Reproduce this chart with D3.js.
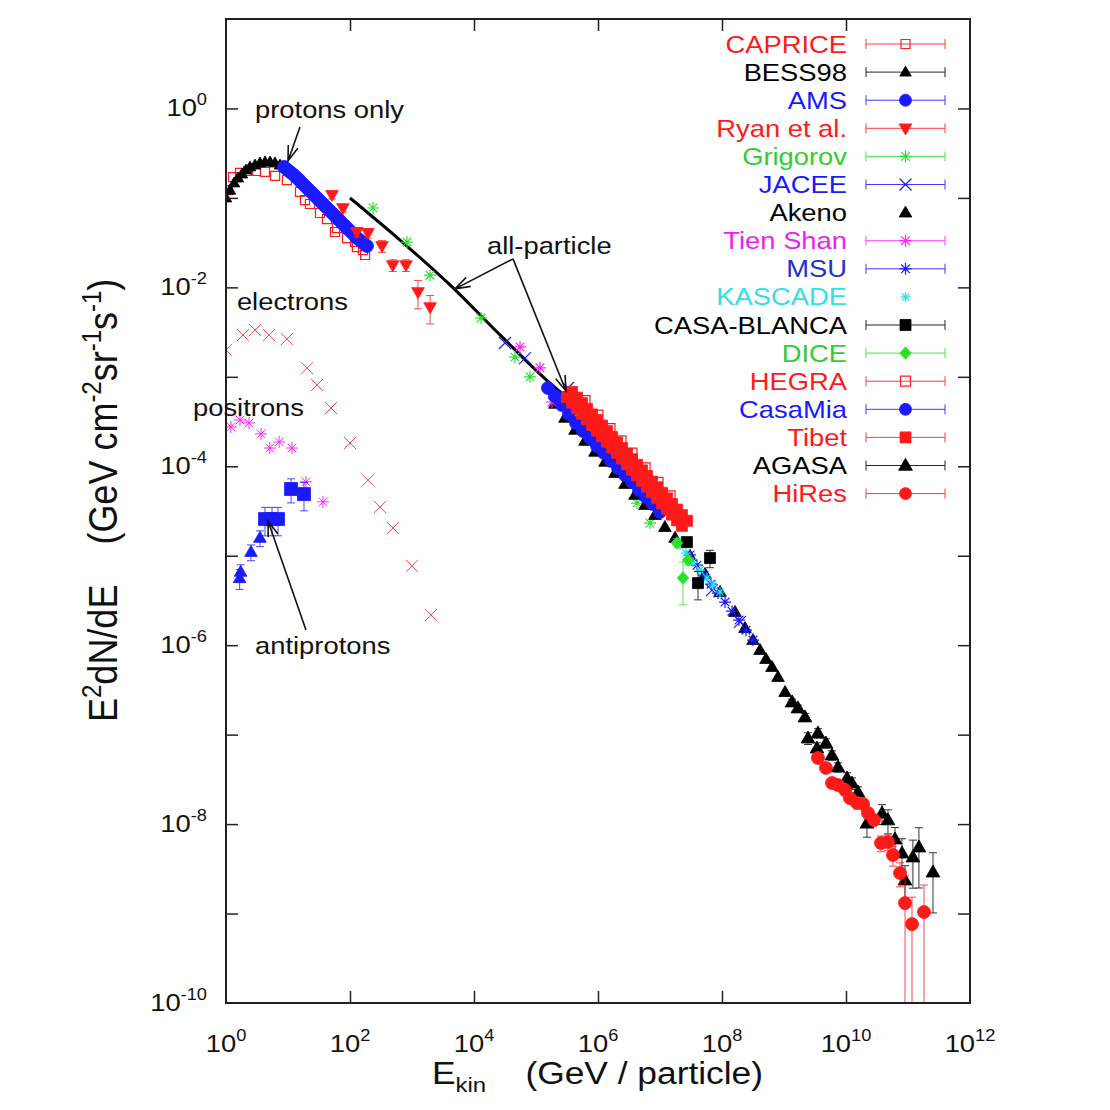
<!DOCTYPE html>
<html>
<head>
<meta charset="utf-8">
<script src="https://cdn.jsdelivr.net/npm/d3@7/dist/d3.min.js"></script>
<style>
html,body{margin:0;padding:0;background:#fff;}
svg text{font-family:"Liberation Sans",Arial,Helvetica,sans-serif;}
</style>
</head>
<body>
<svg id="chart" width="1110" height="1110"></svg>
<script>
// ---------------- DATA (E in GeV, flux = E^2 dN/dE in GeV cm^-2 sr^-1 s^-1) ----------------
const capriceE = [1.08,1.30,1.68,2.26,3.05,4.25,6.2,9.6,15.6,18.8,22.6,32.8,42.5,57.3,61.7,89.5,120,129,162,175];
const capriceF = [0.122,0.171,0.19,0.2,0.2,0.195,0.176,0.158,0.117,0.0946,0.0855,0.0678,0.058,0.0416,0.046,0.0356,0.0322,0.0282,0.0261,0.023];

const bessE = [1.0,1.16,1.35,1.56,1.81,2.10,2.44,2.94,3.53,4.26,5.13,6.17,7.43,8.95];
const bessF = [0.0998,0.122,0.147,0.167,0.185,0.205,0.222,0.233,0.246,0.252,0.252,0.246,0.233,0.222];

const amsE = [8.62,9.65,10.8,12.1,13.5,15.1,16.8,18.8,21.0,23.5,26.3,29.4,32.8,36.7,41.0,45.9,51.3,57.3,64.0,71.6,80.0,89.4,100,112,125,140,156,171,188];
const amsF = [0.222,0.208,0.195,0.183,0.171,0.159,0.147,0.136,0.126,0.117,0.108,0.0999,0.0925,0.0856,0.0793,0.0734,0.0679,0.0629,0.0582,0.0539,0.0499,0.0462,0.0428,0.0396,0.0366,0.0343,0.0322,0.0305,0.0290];

const ryanE = [51.3,77,129,195,328,490,800,1250,1960];
const ryanF = [0.108,0.077,0.0416,0.0405,0.029,0.0177,0.0177,0.00886,0.0060];
const ryanErr = [0.1,0.1,0.12,0.12,0.15,0.15,0.15,0.35,0.35];

const grigorovE = [235,830,1950,1.30e4,4.58e4,8.0e4,4.26e6,6.90e6];
const grigorovF = [0.0771,0.0321,0.0137,4.54e-3,1.66e-3,1.0e-3,3.88e-5,2.32e-5];

const jaceeE = [3.16e4,6.65e4,3.28e5,6.90e7,1.95e8];
const jaceeF = [2.39e-3,1.62e-3,7.50e-4,4.13e-6,1.82e-6];

const akenoE = [2.02e5,2.94e5,4.26e5,6.17e5,8.95e5,1.30e6,1.88e6,2.72e6,3.95e6,5.73e6,8.30e6,1.20e7,1.75e7,3.05e7,5.32e7,9.29e7,1.62e8,2.35e8,3.16e8,4.10e8,5.13e8,6.40e8,8.0e8,1.04e9];
const akenoF = [4.98e-4,3.47e-4,2.55e-4,1.92e-4,1.45e-4,1.12e-4,8.41e-5,6.34e-5,4.78e-5,3.69e-5,2.85e-5,2.09e-5,1.58e-5,9.9e-6,6.24e-6,3.93e-6,2.35e-6,1.55e-6,1.14e-6,8.81e-7,6.99e-7,5.69e-7,4.40e-7,2.99e-7];

const tienShanE = [5.52e4,1.16e5,1.81e5];
const tienShanF = [2.16e-3,1.26e-3,5.23e-4];

const msuE = [3.05e7,3.95e7,5.13e7,6.65e7,8.61e7,1.12e8,1.45e8,1.88e8,2.44e8,3.16e8];
const msuF = [1.02e-5,7.85e-6,6.07e-6,4.81e-6,3.82e-6,3.03e-6,2.40e-6,1.91e-6,1.47e-6,1.14e-6];

const kascadeE = [2.10e7,2.62e7,3.40e7,4.42e7,5.73e7,7.16e7,9.29e7];
const kascadeF = [1.32e-5,1.07e-5,8.51e-6,6.92e-6,5.64e-6,4.71e-6,3.93e-6];

const casaBlancaE = [2.72e7,6.40e7,4.10e7];
const casaBlancaF = [1.42e-5,9.42e-6,4.94e-6];
const casaBlancaErr = [0.1,0.22,0.35];

const diceE = [1.88e7,2.83e7,2.35e7];
const diceF = [1.39e-5,8.95e-6,5.64e-6];
const diceErr = [0.12,0.12,0.5];

const hegraE = [6.17e5,1.0e6,1.56e6,2.35e6,3.53e6,5.73e6,9.29e6,1.45e7];
const hegraF = [5.42e-4,3.73e-4,2.64e-4,1.92e-4,1.40e-4,9.61e-5,6.61e-5,4.67e-5];

const casaMiaE = [1.56e5,2.02e5,2.62e5,3.40e5,4.42e5,5.73e5,7.43e5,9.64e5,1.25e6,1.62e6,2.10e6,2.72e6,3.53e6,4.58e6,5.94e6,7.71e6,1.0e7];
const casaMiaF = [7.50e-4,6.10e-4,4.84e-4,3.84e-4,3.04e-4,2.48e-4,2.07e-4,1.68e-4,1.41e-4,1.15e-4,9.55e-5,7.98e-5,6.67e-5,5.42e-5,4.53e-5,3.78e-5,3.08e-5];

const tibetE = [3.81e5,4.59e5,5.52e5,6.65e5,8.0e5,9.64e5,1.16e6,1.40e6,1.68e6,2.03e6,2.44e6,2.94e6,3.54e6,4.26e6,5.13e6,6.17e6,7.43e6,8.95e6,1.08e7,1.30e7,1.56e7,1.88e7,2.26e7,2.73e7,
                3.16e5,3.81e5,4.59e5,5.52e5,6.65e5,8.0e5,9.64e5,1.16e6,1.40e6,1.68e6,2.03e6,2.44e6,2.94e6,3.54e6,4.26e6,5.13e6,6.17e6,7.43e6,8.95e6,1.08e7,1.30e7,1.56e7,1.88e7,2.26e7];
const tibetF = [6.77e-4,5.85e-4,5.07e-4,4.39e-4,3.80e-4,3.29e-4,2.85e-4,2.47e-4,2.13e-4,1.85e-4,1.60e-4,1.38e-4,1.20e-4,1.04e-4,8.99e-5,7.78e-5,6.73e-5,5.83e-5,5.05e-5,4.37e-5,3.78e-5,3.28e-5,2.84e-5,2.46e-5,
                5.94e-4,5.15e-4,4.46e-4,3.86e-4,3.34e-4,2.89e-4,2.50e-4,2.17e-4,1.88e-4,1.62e-4,1.41e-4,1.22e-4,1.05e-4,9.13e-5,7.90e-5,6.84e-5,5.92e-5,5.13e-5,4.44e-5,3.84e-5,3.33e-5,2.88e-5,2.49e-5,2.16e-5];

const agasaE = [1.35e9,1.68e9,2.18e9,2.44e9,3.40e9,3.53e9,4.75e9,5.94e9,7.43e9,1.04e10,1.25e10,1.56e10,2.18e10,3.81e10,4.75e10,6.17e10,8.0e10,8.95e10,1.20e11,1.50e11,2.53e11];
const agasaF = [2.31e-7,1.98e-7,1.57e-7,9.12e-8,7.05e-8,1.04e-7,8.02e-8,5.89e-8,4.33e-8,3.26e-8,2.86e-8,2.27e-8,1.02e-8,1.32e-8,1.11e-8,6.79e-9,4.73e-9,2.36e-9,4.27e-9,5.52e-9,2.90e-9];
const agasaErr = [0.08,0.08,0.1,0.15,0.15,0.12,0.12,0.12,0.12,0.15,0.15,0.15,0.3,0.25,0.3,0.35,0.45,0.45,0.55,0.65,0.65];

const hiresE = [3.53e9,4.75e9,5.94e9,7.43e9,9.64e9,1.16e10,1.50e10,1.88e10,2.26e10,2.83e10,3.67e10,4.75e10,5.73e10,7.43e10,8.95e10,1.16e11,1.81e11];
const hiresF = [5.48e-8,4.24e-8,2.88e-8,2.73e-8,2.40e-8,1.95e-8,1.72e-8,1.68e-8,1.33e-8,1.11e-8,6.14e-9,6.30e-9,4.51e-9,2.84e-9,1.31e-9,7.62e-10,1.04e-9];
const hiresErr = [0.08,0.08,0.08,0.08,0.08,0.08,0.08,0.08,0.1,0.1,0.2,0.2,0.25,0.3,1.0,1.0,1.0];

const electronE = [1.0,1.88,2.94,4.94,9.6,20.3,29.4,49.4,100,195,305,494,1000,2025];
const electronF = [0.0020,0.00293,0.00333,0.00293,0.00264,0.00125,8.1e-4,4.48e-4,1.82e-4,7.0e-5,3.5e-5,2.04e-5,7.7e-6,2.17e-6];

const positronE = [1.2,1.68,2.35,3.67,5.1,7.2,11.6,19.5,36.7];
const positronF = [2.75e-4,3.29e-4,3.05e-4,2.30e-4,1.60e-4,1.87e-4,1.60e-4,6.7e-5,4.0e-5];

const pbarTriE = [1.66,1.72,2.53,3.53];
const pbarTriF = [5.6e-6,6.6e-6,1.1e-5,1.58e-5];
const pbarTriErr = [0.25,0.2,0.2,0.2];
const pbarSqE = [4.25,5.52,6.9,11.2,18.1];
const pbarSqF = [2.57e-5,2.57e-5,2.57e-5,5.57e-5,4.89e-5];
const pbarSqErr = [0.35,0.35,0.35,0.3,0.35];

const allParticleE = [100,640,4100,26300,168000,355000];
const allParticleF = [0.0998,0.0338,0.01065,0.00294,8.5e-4,5.5e-4];

const legendNames = ["CAPRICE","BESS98","AMS","Ryan et al.","Grigorov","JACEE","Akeno","Tien Shan","MSU","KASCADE","CASA-BLANCA","DICE","HEGRA","CasaMia","Tibet","AGASA","HiRes"];

const xTicks = [1e2,1e4,1e6,1e8,1e10];
const xTickLabels = [[1,"0"],[1e2,"2"],[1e4,"4"],[1e6,"6"],[1e8,"8"],[1e10,"10"],[1e12,"12"]];
const yTicks = [1e0,1e-1,1e-2,1e-3,1e-4,1e-5,1e-6,1e-7,1e-8,1e-9];
const yTickLabels = [[1e0,"0"],[1e-2,"-2"],[1e-4,"-4"],[1e-6,"-6"],[1e-8,"-8"],[1e-10,"-10"]];

// ---------------- STYLES ----------------
const RED="#ff1a1a", BLUE="#1a1aff", GREEN="#2ee02e", MAG="#ff22ff", CYAN="#22e8e8", BLACK="#000";
const styles = {
  "CAPRICE":     {color:RED,   shape:"square",  fill:false, s:4.5, bar:true},
  "BESS98":      {color:BLACK, shape:"triUp",   fill:true,  s:5,   bar:true},
  "AMS":         {color:BLUE,  shape:"circle",  fill:true,  s:6.5, bar:true},
  "Ryan et al.": {color:RED,   shape:"triDown", fill:true,  s:5.5, bar:true},
  "Grigorov":    {color:GREEN, shape:"star",    fill:false, s:6,   bar:true},
  "JACEE":       {color:BLUE,  shape:"cross",   fill:false, s:6,   bar:true},
  "Akeno":       {color:BLACK, shape:"triUp",   fill:true,  s:5.5, bar:false},
  "Tien Shan":   {color:MAG,   shape:"star",    fill:false, s:6,   bar:true},
  "MSU":         {color:BLUE,  shape:"star",    fill:false, s:6,   bar:true},
  "KASCADE":     {color:CYAN,  shape:"star",    fill:false, s:5,   bar:false},
  "CASA-BLANCA": {color:BLACK, shape:"square",  fill:true,  s:5.5, bar:true},
  "DICE":        {color:GREEN, shape:"diamond", fill:true,  s:5,   bar:true},
  "HEGRA":       {color:RED,   shape:"square",  fill:false, s:5,   bar:true},
  "CasaMia":     {color:BLUE,  shape:"circle",  fill:true,  s:6.5, bar:true},
  "Tibet":       {color:RED,   shape:"square",  fill:true,  s:5.5, bar:true},
  "AGASA":       {color:BLACK, shape:"triUp",   fill:true,  s:6,   bar:true},
  "HiRes":       {color:RED,   shape:"circle",  fill:true,  s:6.5, bar:true}
};
const textColors = {"Grigorov":"#33cc33","DICE":"#33cc33","KASCADE":"#33e0e0","MSU":"#2233cc","Tien Shan":"#ee22ee"};

const series = [
  {name:"CAPRICE", E:capriceE, F:capriceF},
  {name:"BESS98", E:bessE, F:bessF},
  {name:"AMS", E:amsE, F:amsF},
  {name:"Ryan et al.", E:ryanE, F:ryanF, err:ryanErr},
  {name:"Grigorov", E:grigorovE, F:grigorovF},
  {name:"JACEE", E:jaceeE, F:jaceeF},
  {name:"Akeno", E:akenoE, F:akenoF},
  {name:"Tien Shan", E:tienShanE, F:tienShanF},
  {name:"MSU", E:msuE, F:msuF},
  {name:"KASCADE", E:kascadeE, F:kascadeF},
  {name:"CASA-BLANCA", E:casaBlancaE, F:casaBlancaF, err:casaBlancaErr},
  {name:"DICE", E:diceE, F:diceF, err:diceErr},
  {name:"HEGRA", E:hegraE, F:hegraF},
  {name:"CasaMia", E:casaMiaE, F:casaMiaF},
  {name:"Tibet", E:tibetE, F:tibetF},
  {name:"AGASA", E:agasaE, F:agasaF, err:agasaErr},
  {name:"HiRes", E:hiresE, F:hiresF, err:hiresErr}
];
const extraSeries = [
  {E:electronE, F:electronF, st:{color:"#ff4444", shape:"cross", fill:false, s:6, sw:1}},
  {E:positronE, F:positronF, st:{color:MAG, shape:"star", fill:false, s:6, sw:1}},
  {E:pbarTriE, F:pbarTriF, err:pbarTriErr, st:{color:BLUE, shape:"triUp", fill:true, s:5.5}},
  {E:pbarSqE, F:pbarSqF, err:pbarSqErr, st:{color:BLUE, shape:"square", fill:true, s:6.5}}
];

// ---------------- CHART ----------------
const svg = d3.select("#chart");
const L=226, R=970, T=19, B=1003;
const x = d3.scaleLog().domain([1,1e12]).range([L,R]);
const y = d3.scaleLog().domain([1e-10,10]).range([B,T]);
const SX = 1.14; // horizontal glyph stretch of the original

svg.append("defs").append("clipPath").attr("id","clip")
  .append("rect").attr("x",L).attr("y",T).attr("width",R-L).attr("height",B-T);

function sym(shape,k){
  switch(shape){
    case "square": return `M${-k},${-k}H${k}V${k}H${-k}Z`;
    case "triUp": return `M0,${-k*1.2}L${k*1.15},${k*0.8}L${-k*1.15},${k*0.8}Z`;
    case "triDown": return `M0,${k*1.2}L${k*1.15},${-k*0.8}L${-k*1.15},${-k*0.8}Z`;
    case "circle": return `M${k},0A${k},${k} 0 1,1 ${-k},0A${k},${k} 0 1,1 ${k},0Z`;
    case "cross": return `M${-k},${-k}L${k},${k}M${-k},${k}L${k},${-k}`;
    case "star": {const d=k*0.72; return `M${-k},0H${k}M0,${-k}V${k}M${-d},${-d}L${d},${d}M${-d},${d}L${d},${-d}`;}
    case "diamond": return `M0,${-k*1.25}L${k*1.15},0L0,${k*1.25}L${-k*1.15},0Z`;
  }
}
function styleMark(sel,st){
  sel.attr("d",sym(st.shape,st.s))
     .attr("fill",st.fill?st.color:"none")
     .attr("stroke",st.color)
     .attr("stroke-width",st.sw||(st.fill?0.8:1.2));
}

const plot = svg.append("g").attr("clip-path","url(#clip)");

function drawSeries(E,F,err,st){
  const pts = d3.zip(E,F,err||E.map(()=>null));
  const g = plot.append("g");
  if(err){
    const eb = g.append("g").attr("stroke",st.color).attr("stroke-width",1).attr("opacity",0.8);
    pts.forEach(p=>{
      const cx=x(p[0]);
      const hi=y(p[1]*(1+p[2]));
      const lo=y(Math.max(p[1]*(1-p[2]),1e-11));
      eb.append("line").attr("x1",cx).attr("x2",cx).attr("y1",hi).attr("y2",lo);
      eb.append("line").attr("x1",cx-4).attr("x2",cx+4).attr("y1",hi).attr("y2",hi);
      eb.append("line").attr("x1",cx-4).attr("x2",cx+4).attr("y1",lo).attr("y2",lo);
    });
  }
  g.selectAll("path.m").data(pts).join("path").attr("class","m")
    .attr("transform",d=>`translate(${x(d[0])},${y(d[1])})`)
    .call(styleMark,st);
}

// low energy species
extraSeries.forEach(s=>drawSeries(s.E,s.F,s.err,s.st));

// all-particle fit line
plot.append("path")
  .datum(d3.zip(allParticleE,allParticleF))
  .attr("fill","none").attr("stroke","#000").attr("stroke-width",3)
  .attr("d",d3.line().x(d=>x(d[0])).y(d=>y(d[1])).curve(d3.curveMonotoneX));

// experiments
series.forEach(s=>drawSeries(s.E,s.F,s.err,styles[s.name]));

// ---------------- AXES ----------------
const tickStyle = g=>{ g.select(".domain").remove(); g.selectAll(".tick line").attr("stroke","#222").attr("stroke-width",1.5); };
svg.append("g").attr("transform",`translate(${L},0)`).call(d3.axisLeft(y).tickValues(yTicks).tickSize(-12).tickFormat(()=>"")).call(tickStyle);
svg.append("g").attr("transform",`translate(${R},0)`).call(d3.axisRight(y).tickValues(yTicks).tickSize(-12).tickFormat(()=>"")).call(tickStyle);
svg.append("g").attr("transform",`translate(0,${B})`).call(d3.axisBottom(x).tickValues(xTicks).tickSize(-12).tickFormat(()=>"")).call(tickStyle);
svg.append("g").attr("transform",`translate(0,${T})`).call(d3.axisTop(x).tickValues(xTicks).tickSize(-12).tickFormat(()=>"")).call(tickStyle);

svg.append("rect").attr("x",L).attr("y",T).attr("width",R-L).attr("height",B-T)
  .attr("fill","none").attr("stroke","#222").attr("stroke-width",2);

function powLabel(g,exp,anchor){
  const t = g.append("text").attr("text-anchor",anchor).attr("font-size",24).attr("fill","#111");
  t.append("tspan").text("10");
  t.append("tspan").attr("font-size",16).attr("dy",-11).text(exp);
  return t;
}
yTickLabels.forEach(([v,e])=>{
  const g = svg.append("g").attr("transform",`translate(207,${y(v)+8}) scale(${SX},1)`);
  powLabel(g,e,"end");
});
xTickLabels.forEach(([v,e])=>{
  const g = svg.append("g").attr("transform",`translate(${x(v)},1052) scale(${SX},1)`);
  powLabel(g,e,"middle");
});

// axis titles
{
  const g = svg.append("g").attr("transform",`translate(432,1084) scale(${SX},1)`);
  const t = g.append("text").attr("font-size",31).attr("fill","#111");
  t.append("tspan").text("E");
  t.append("tspan").attr("font-size",21).attr("dy",8).text("kin");
  t.append("tspan").attr("dy",-8).text("\u00a0\u00a0\u00a0\u00a0(GeV / particle)");
}
{
  const g = svg.append("g").attr("transform",`translate(117,722) scale(${SX},1) rotate(-90)`);
  const t = g.append("text").attr("font-size",36).attr("fill","#111");
  t.append("tspan").text("E");
  t.append("tspan").attr("font-size",24).attr("dy",-14).text("2");
  t.append("tspan").attr("dy",14).text("dN/dE\u00a0\u00a0\u00a0\u00a0(GeV cm");
  t.append("tspan").attr("font-size",24).attr("dy",-14).text("-2");
  t.append("tspan").attr("dy",14).text("sr");
  t.append("tspan").attr("font-size",24).attr("dy",-14).text("-1");
  t.append("tspan").attr("dy",14).text("s");
  t.append("tspan").attr("font-size",24).attr("dy",-14).text("-1");
  t.append("tspan").attr("dy",14).text(")");
}

// ---------------- ANNOTATIONS ----------------
const notes = [
  {text:"protons only", E:2.94, F:0.783},
  {text:"all-particle", E:1.62e4, F:0.0236},
  {text:"electrons", E:1.50, F:5.58e-3},
  {text:"positrons", E:0.294, F:3.65e-4},
  {text:"antiprotons", E:2.94, F:7.96e-7}
];
notes.forEach(n=>{
  svg.append("g").attr("transform",`translate(${x(n.E)},${y(n.F)}) scale(${SX},1)`)
    .append("text").attr("font-size",24).attr("fill","#111").text(n.text);
});
const arrows = [
  [[15.6,0.621],[10,0.259]],
  [[4.26e4,0.0208],[4940,0.00962]],
  [[4.26e4,0.0208],[3.05e5,6.95e-4]],
  [[19.5,1.48e-6],[4.76,2.44e-5]]
];
arrows.forEach(([a,b])=>{
  const x1=x(a[0]),y1=y(a[1]),x2=x(b[0]),y2=y(b[1]);
  const ang=Math.atan2(y2-y1,x2-x1), Lh=16, w=0.32;
  const p=`M${x1},${y1}L${x2},${y2}M${x2-Lh*Math.cos(ang-w)},${y2-Lh*Math.sin(ang-w)}L${x2},${y2}L${x2-Lh*Math.cos(ang+w)},${y2-Lh*Math.sin(ang+w)}`;
  svg.append("path").attr("d",p).attr("fill","none").attr("stroke","#111").attr("stroke-width",1.6);
});

// ---------------- LEGEND ----------------
const leg = svg.append("g");
legendNames.forEach((name,i)=>{
  const st = styles[name];
  const yy = 44 + i*28.1;
  leg.append("g").attr("transform",`translate(847,${yy+8.5}) scale(${SX},1)`)
    .append("text").attr("text-anchor","end").attr("font-size",24)
    .attr("fill",textColors[name]||st.color).text(name);
  if(st.bar){
    const lg = leg.append("g").attr("stroke",st.color).attr("stroke-width",1).attr("opacity",0.85);
    lg.append("line").attr("x1",866).attr("x2",945).attr("y1",yy).attr("y2",yy);
    lg.append("line").attr("x1",866).attr("x2",866).attr("y1",yy-5).attr("y2",yy+5);
    lg.append("line").attr("x1",945).attr("x2",945).attr("y1",yy-5).attr("y2",yy+5);
  }
  leg.append("path").attr("transform",`translate(905.5,${yy})`).call(styleMark,{...st, s: st.shape==="circle"?6:st.s});
});
</script>
</body>
</html>
